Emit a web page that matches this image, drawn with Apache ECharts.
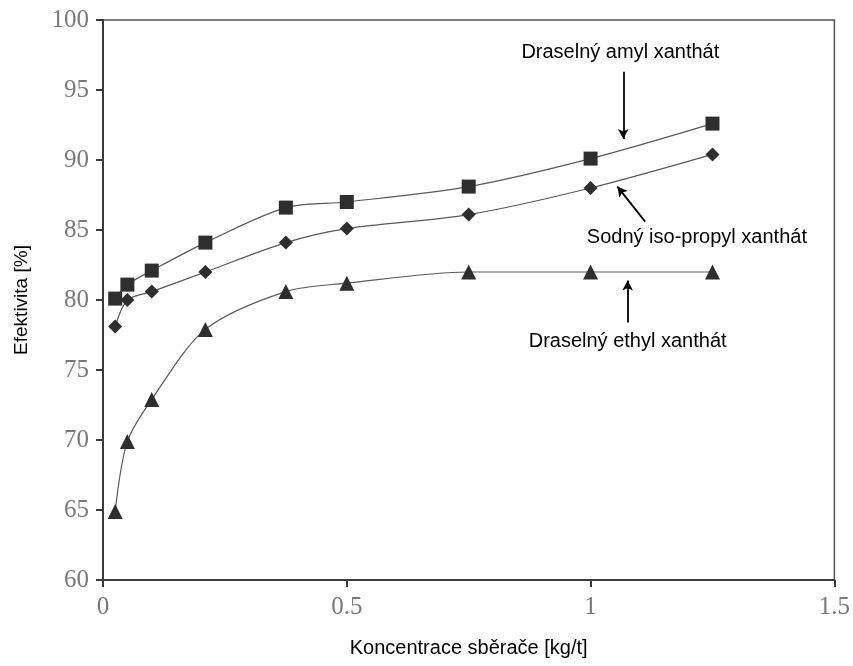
<!DOCTYPE html>
<html>
<head>
<meta charset="utf-8">
<script src="https://cdn.jsdelivr.net/npm/echarts@6/dist/echarts.min.js"></script>
<style>
  html, body { margin: 0; padding: 0; background: #fff; }
  #chart { width: 853px; height: 666px; }
</style>
</head>
<body>
<div id="chart"></div>
<script>
// koncentrace sběrače [kg/t]
const koncentrace = [0.025, 0.05, 0.1, 0.21, 0.375, 0.5, 0.75, 1.0, 1.25]
// efektivita [%]
const amyl = [80.1, 81.1, 82.1, 84.1, 86.6, 87.0, 88.1, 90.1, 92.6]
const isoPropyl = [78.1, 80.0, 80.6, 82.0, 84.1, 85.1, 86.1, 88.0, 90.4]
const ethyl = [64.9, 69.9, 72.9, 77.9, 80.6, 81.2, 82.0, 82.0, 82.0]

const seriesNames = ['Draselný amyl xanthát', 'Sodný iso-propyl xanthát', 'Draselný ethyl xanthát']

// popisky a šipky (v souřadnicích os)
const popisky = [
  { text: 'Draselný amyl xanthát', x: 1.061, y: 97.7 },
  { text: 'Sodný iso-propyl xanthát', x: 1.218, y: 84.45 },
  { text: 'Draselný ethyl xanthát', x: 1.076, y: 77.05 }
]
const sipky = [
  [[1.067, 96.3], [1.067, 91.5]],
  [[1.112, 85.6], [1.055, 88.1]],
  [[1.076, 78.4], [1.076, 81.4]]
]

const chart = echarts.init(document.getElementById('chart'))

function toPairs(vals) {
  return koncentrace.map((x, i) => [x, vals[i]])
}

function lineSeries(name, vals, symbol, size) {
  return {
    name: name,
    type: 'line',
    smooth: 0.3,
    data: toPairs(vals),
    symbol: symbol,
    symbolSize: size,
    showAllSymbol: true,
    itemStyle: { color: '#2e2e2e' },
    lineStyle: { color: '#5a5a5a', width: 1.2 },
    z: 3
  }
}

const option = {
  animation: false,
  backgroundColor: '#fff',
  grid: {
    left: 103,
    right: 15,
    top: 20,
    bottom: 86,
    show: true,
    borderColor: '#555',
    borderWidth: 1.5
  },
  xAxis: {
    type: 'value',
    min: 0,
    max: 1.5,
    interval: 0.5,
    name: 'Koncentrace sběrače [kg/t]',
    nameLocation: 'middle',
    nameGap: 58,
    nameTextStyle: { fontFamily: 'Liberation Sans', fontSize: 20, color: '#000' },
    axisLine: { show: true, lineStyle: { color: '#3a3a3a', width: 2 } },
    axisTick: { show: true, inside: false, length: 7, lineStyle: { color: '#3a3a3a', width: 2 } },
    axisLabel: { fontFamily: 'Liberation Serif', fontSize: 25, color: '#7a7a7a', margin: 15 },
    splitLine: { show: false }
  },
  yAxis: {
    type: 'value',
    min: 60,
    max: 100,
    interval: 5,
    name: 'Efektivita [%]',
    nameLocation: 'middle',
    nameGap: 72,
    nameRotate: 90,
    nameTextStyle: { fontFamily: 'Liberation Sans', fontSize: 19, color: '#000' },
    axisLine: { show: true, lineStyle: { color: '#3a3a3a', width: 2 } },
    axisTick: { show: true, inside: false, length: 7, lineStyle: { color: '#3a3a3a', width: 2 } },
    axisLabel: { fontFamily: 'Liberation Serif', fontSize: 25, color: '#7a7a7a', margin: 14 },
    splitLine: { show: false }
  },
  series: [
    lineSeries(seriesNames[0], amyl, 'rect', 14),
    lineSeries(seriesNames[1], isoPropyl, 'diamond', 14),
    lineSeries(seriesNames[2], ethyl, 'triangle', 15),
    {
      type: 'line',
      data: [],
      silent: true,
      markLine: {
        silent: true,
        symbol: ['none', 'arrow'],
        symbolSize: [8, 10],
        label: { show: false },
        lineStyle: { color: '#000', width: 1.8, type: 'solid' },
        data: sipky.map(s => [{ coord: s[0] }, { coord: s[1] }])
      }
    },
    {
      type: 'scatter',
      silent: true,
      symbolSize: 0,
      itemStyle: { opacity: 1 },
      data: popisky.map(p => [p.x, p.y, p.text]),
      label: {
        show: true,
        position: 'inside',
        formatter: p => p.data[2],
        fontFamily: 'Liberation Sans',
        fontSize: 20,
        color: '#000'
      }
    }
  ]
}

chart.setOption(option)
</script>
</body>
</html>
